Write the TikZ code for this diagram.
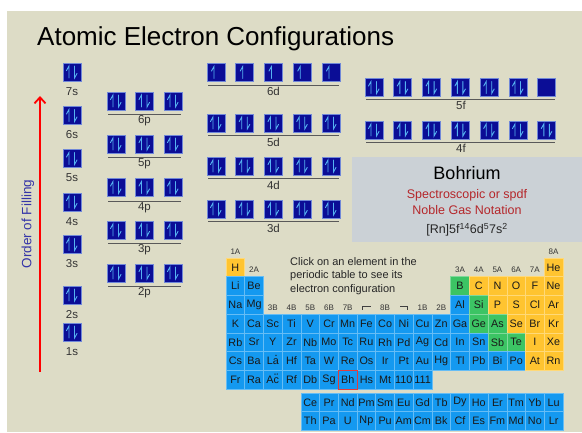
\documentclass[tikz,border=0pt]{standalone}
\usepackage{fontspec}
\setmainfont{Liberation Sans}
\usetikzlibrary{arrows.meta}
\definecolor{bg}{HTML}{DDDCC6}
\definecolor{infobg}{HTML}{CBD1D6}
\definecolor{orbfill}{HTML}{0B0D96}
\definecolor{orbedge}{HTML}{7088D8}
\definecolor{spincol}{HTML}{55B2F2}
\definecolor{pY}{HTML}{FFC430}
\definecolor{pB}{HTML}{1499F0}
\definecolor{pG}{HTML}{3CC464}
\definecolor{redtxt}{HTML}{B5262A}
\definecolor{filltxt}{HTML}{3535A8}
\tikzset{
  orbbox/.style={fill=orbfill,draw=orbedge,line width=0.8pt},
  spin/.style={draw=spincol,line width=0.9pt,line cap=round},
  pics/orbpair/.style={code={
    \draw[orbbox] (-9,-9) rectangle (9,9);
    \draw[spin] (-3,6) -- (-3,-6) -- (-5.5,-1.5);
    \draw[spin] (2.5,-6) -- (2.5,6) -- (5,1.5);
  }},
  pics/orbup/.style={code={
    \draw[orbbox] (-9,-9) rectangle (9,9);
    \draw[spin] (-2,6) -- (-2,-6) -- (-4.5,-1.5);
  }},
  pics/orbempty/.style={code={
    \draw[orbbox] (-9,-9) rectangle (9,9);
  }},
  shell/.style={draw=black!65,line width=0.8pt},
  lbl/.style={text=black!80,font=\fontsize{11.5}{13}\selectfont,inner sep=0pt},
  grp/.style={text=black!80,font=\fontsize{8}{9}\selectfont,inner sep=0pt},
  cell/.style={minimum width=18.72pt,minimum height=18.72pt,inner sep=0pt,line width=0.6pt,
    text=black!90,font=\fontsize{10.8}{11}\selectfont},
  mark dot/.style={fill=black!90},
}
\begin{document}
\begin{tikzpicture}[x=1pt,y=-1pt]
\useasboundingbox (0,0) rectangle (582,432);
\fill[white] (0,0) rectangle (582,432);
\fill[bg] (7,11) rectangle (582,432);

% title
\node[anchor=west,inner sep=0pt,font=\fontsize{26}{30}\selectfont] (title) at (37,38.5) {Atomic Electron Configurations};

% order of filling
\coordinate (arrowbot) at (40,372);
\coordinate (arrowtop) at (40,96);
\draw[draw=red,line width=1.8pt,-{Straight Barb[length=6pt,width=11pt]}] (arrowbot) -- (arrowtop);
\node[rotate=90,text=filltxt,font=\fontsize{13.5}{15}\selectfont,inner sep=0pt] (order) at (28,224) {Order of Filling};

% s orbitals
\foreach \n/\y in {7/72,6/115.5,5/158.5,4/202,3/244.5,2/295,1/332}{
  \pic at (72,\y) {orbpair};
  \node[lbl] (s\n) at (72,\y+19.5) {\n s};
}
% p orbitals
\foreach \n/\y in {6/101,5/144,4/187.5,3/230,2/273}{
  \foreach \xx in {116,144.5,173}{\pic at (\xx,\y) {orbpair};}
  \draw[shell] (108,\y+13.5) -- (181,\y+13.5);
  \node[lbl] (p\n) at (144.5,\y+20) {\n p};
}
% d orbitals
\foreach \xx in {216,244.75,273.5,302.25,331}{\pic at (\xx,72.5) {orbup};}
\draw[shell] (208,85) -- (339,85);
\node[lbl] (d6) at (273.5,91.5) {6d};
\foreach \n/\y in {5/123,4/166,3/209}{
  \foreach \xx in {216,244.75,273.5,302.25,331}{\pic at (\xx,\y) {orbpair};}
  \draw[shell] (208,\y+12.5) -- (339,\y+12.5);
  \node[lbl] (d\n) at (273.5,\y+19) {\n d};
}
% f orbitals
\foreach \i in {0,...,5}{\pic at (374+28.8*\i,87.5) {orbpair};}
\pic at (374+28.8*6,87.5) {orbempty};
\draw[shell] (366,99.5) -- (555,99.5);
\node[lbl] (f5) at (461,105.5) {5f};
\foreach \i in {0,...,6}{\pic at (374+28.8*\i,130) {orbpair};}
\draw[shell] (366,142) -- (555,142);
\node[lbl] (f4) at (461,148.5) {4f};

% info box
\fill[infobg] (352,157) rectangle (582,242);
\node[inner sep=0pt,font=\fontsize{18}{20}\selectfont] (elname) at (467,173.5) {Bohrium};
\node[inner sep=0pt,text=redtxt,font=\fontsize{12.5}{14}\selectfont] (spdf1) at (467,195) {Spectroscopic or spdf};
\node[inner sep=0pt,text=redtxt,font=\fontsize{12.5}{14}\selectfont] (spdf2) at (467,210.5) {Noble Gas Notation};
\node[inner sep=0pt,text=black!85,font=\fontsize{12.5}{14}\selectfont] (config) at (467,229.5) {[Rn]5f\textsuperscript{14}6d\textsuperscript{5}7s\textsuperscript{2}};

% periodic table
\foreach \s/\c/\r/\k in {
 H/1/1/Y, He/18/1/Y,
 Li/1/2/B, Be/2/2/B, B/13/2/G, C/14/2/Y, N/15/2/Y, O/16/2/Y, F/17/2/Y, Ne/18/2/Y,
 Na/1/3/B, Mg/2/3/B, Al/13/3/B, Si/14/3/G, P/15/3/Y, S/16/3/Y, Cl/17/3/Y, Ar/18/3/Y,
 K/1/4/B, Ca/2/4/B, Sc/3/4/B, Ti/4/4/B, V/5/4/B, Cr/6/4/B, Mn/7/4/B, Fe/8/4/B, Co/9/4/B,
 Ni/10/4/B, Cu/11/4/B, Zn/12/4/B, Ga/13/4/B, Ge/14/4/G, As/15/4/G, Se/16/4/Y, Br/17/4/Y, Kr/18/4/Y,
 Rb/1/5/B, Sr/2/5/B, Y/3/5/B, Zr/4/5/B, Nb/5/5/B, Mo/6/5/B, Tc/7/5/B, Ru/8/5/B, Rh/9/5/B,
 Pd/10/5/B, Ag/11/5/B, Cd/12/5/B, In/13/5/B, Sn/14/5/B, Sb/15/5/G, Te/16/5/G, I/17/5/Y, Xe/18/5/Y,
 Cs/1/6/B, Ba/2/6/B, La/3/6/B, Hf/4/6/B, Ta/5/6/B, W/6/6/B, Re/7/6/B, Os/8/6/B, Ir/9/6/B,
 Pt/10/6/B, Au/11/6/B, Hg/12/6/B, Tl/13/6/B, Pb/14/6/B, Bi/15/6/B, Po/16/6/B, At/17/6/Y, Rn/18/6/Y,
 Fr/1/7/B, Ra/2/7/B, Ac/3/7/B, Rf/4/7/B, Db/5/7/B, Sg/6/7/B, Bh/7/7/B, Hs/8/7/B, Mt/9/7/B, 110/10/7/B, 111/11/7/B}{
  \node[cell,fill=p\k,draw=p\k!65!white] (e-\s) at ({226+(\c-0.5)*18.72},{258+(\r-0.5)*18.72}) {\s};
}
% small marks over La and Ac
\fill[mark dot] ([xshift=3.2pt,yshift=5.6pt]e-La.center) circle (0.7pt);
\fill[mark dot] ([xshift=2.2pt,yshift=5.6pt]e-Ac.center) circle (0.7pt);
\fill[mark dot] ([xshift=4.4pt,yshift=5.6pt]e-Ac.center) circle (0.7pt);
\foreach \s [count=\i from 0] in {Ce,Pr,Nd,Pm,Sm,Eu,Gd,Tb,Dy,Ho,Er,Tm,Yb,Lu}{
  \node[cell,fill=pB,draw=pB!65!white] (e-\s) at ({226+(4.5+\i)*18.72},{393+0.5*18.72}) {\s};
}
\foreach \s [count=\i from 0] in {Th,Pa,U,Np,Pu,Am,Cm,Bk,Cf,Es,Fm,Md,No,Lr}{
  \node[cell,fill=pB,draw=pB!65!white] (e-\s) at ({226+(4.5+\i)*18.72},{393+1.5*18.72}) {\s};
}
\draw[draw={rgb,255:red,225;green,60;blue,60},line width=0.9pt] (e-Bh.north west) rectangle (e-Bh.south east);

% group labels
\node[grp] (g1A) at (235.4,251.5) {1A};
\node[grp] (g8A) at (553.6,251.5) {8A};
\node[grp] (g2A) at (254.1,270) {2A};
\foreach \t/\c in {3A/13,4A/14,5A/15,6A/16,7A/17}{\node[grp] (g\t) at ({226+(\c-0.5)*18.72},270) {\t};}
\foreach \t/\c in {3B/3,4B/4,5B/5,6B/6,7B/7,8B/9,1B/11,2B/12}{\node[grp] (g\t) at ({226+(\c-0.5)*18.72},308) {\t};}
\coordinate (b8l) at (362.5,309.5);
\coordinate (b8r) at (407.5,309.5);
\draw[black!75,line width=0.6pt] (b8l) -- ++(0,-3.5) -- ++(8,0);
\draw[black!75,line width=0.6pt] (b8r) -- ++(0,-3.5) -- ++(-8,0);

% instruction text
\node[anchor=north west,align=left,inner sep=0pt,text=black!85,font=\fontsize{11}{13.5}\selectfont] (click) at (290,257) {Click on an element in the\\periodic table to see its\\electron configuration};
\end{tikzpicture}
\end{document}
